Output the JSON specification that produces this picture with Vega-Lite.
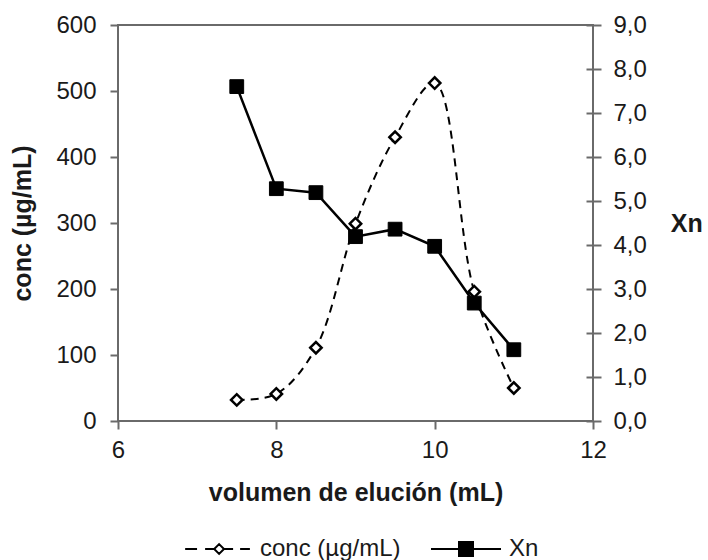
{
  "$schema": "https://vega.github.io/schema/vega-lite/v6.json",
  "width": 475,
  "height": 396,
  "autosize": {"type": "none"},
  "padding": {"left": 118, "top": 25, "right": 115, "bottom": 139},
  "background": "white",
  "config": {
    "font": "Liberation Sans",
    "view": {"stroke": "#6a6a6a", "strokeWidth": 2},
    "axis": {
      "grid": false,
      "domain": false,
      "tickColor": "#6a6a6a",
      "tickWidth": 2,
      "tickSize": 8,
      "labelFont": "Liberation Sans",
      "labelFontSize": 24,
      "labelColor": "#1a1a1a",
      "titleFont": "Liberation Sans",
      "titleFontSize": 25,
      "titleFontWeight": "bold",
      "titleColor": "#1a1a1a"
    },
    "legend": {
      "orient": "none",
      "legendX": 63,
      "legendY": 488,
      "direction": "horizontal",
      "padding": 0,
      "symbolSize": 4900,
      "symbolStrokeWidth": 2,
      "symbolStrokeColor": "black",
      "symbolOpacity": 1,
      "labelFontSize": 24,
      "labelFont": "Liberation Sans",
      "labelColor": "#1a1a1a",
      "labelOffset": 7,
      "columnPadding": 26
    }
  },
  "data": {
    "values": [
      {"v": 7.5, "series": "conc (µg/mL)", "val": 32},
      {"v": 8.0, "series": "conc (µg/mL)", "val": 41},
      {"v": 8.5, "series": "conc (µg/mL)", "val": 111},
      {"v": 9.0, "series": "conc (µg/mL)", "val": 299},
      {"v": 9.5, "series": "conc (µg/mL)", "val": 430},
      {"v": 10.0, "series": "conc (µg/mL)", "val": 512},
      {"v": 10.5, "series": "conc (µg/mL)", "val": 196},
      {"v": 11.0, "series": "conc (µg/mL)", "val": 50},
      {"v": 7.5, "series": "Xn", "val": 7.6},
      {"v": 8.0, "series": "Xn", "val": 5.28},
      {"v": 8.5, "series": "Xn", "val": 5.19},
      {"v": 9.0, "series": "Xn", "val": 4.19},
      {"v": 9.5, "series": "Xn", "val": 4.36},
      {"v": 10.0, "series": "Xn", "val": 3.97},
      {"v": 10.5, "series": "Xn", "val": 2.68},
      {"v": 11.0, "series": "Xn", "val": 1.62}
    ]
  },
  "encoding": {
    "x": {
      "field": "v",
      "type": "quantitative",
      "scale": {"domain": [6, 12], "nice": false, "zero": false},
      "axis": {
        "values": [6, 8, 10, 12],
        "title": "volumen de elución (mL)",
        "labelPadding": 9,
        "titlePadding": 18,
        "labelFlush": false
      }
    }
  },
  "layer": [
    {
      "transform": [{"filter": "datum.series == 'conc (µg/mL)'"}],
      "encoding": {
        "y": {
          "field": "val",
          "type": "quantitative",
          "scale": {"domain": [0, 600], "nice": false},
          "axis": {
            "orient": "left",
            "values": [0, 100, 200, 300, 400, 500, 600],
            "title": "conc (µg/mL)",
            "labelPadding": 14,
            "titlePadding": 20,
            "labelFlush": false
          }
        }
      },
      "layer": [
        {
          "mark": {"type": "line", "interpolate": "catmull-rom", "color": "black", "strokeWidth": 2, "strokeDash": [8, 6]}
        },
        {
          "mark": {"type": "point", "shape": "diamond", "filled": true, "fill": "white", "stroke": "black", "strokeWidth": 2.5, "size": 130, "opacity": 1}
        }
      ]
    },
    {
      "transform": [{"filter": "datum.series == 'Xn'"}],
      "encoding": {
        "y": {
          "field": "val",
          "type": "quantitative",
          "scale": {"domain": [0, 9], "nice": false},
          "axis": {
            "orient": "right",
            "values": [0, 1, 2, 3, 4, 5, 6, 7, 8, 9],
            "labelExpr": "replace(format(datum.value, '.1f'), '.', ',')",
            "title": "Xn",
            "offset": -7,
            "tickSize": 15,
            "labelPadding": 12,
            "titleAngle": 0,
            "titleAlign": "left",
            "titleBaseline": "middle",
            "titlePadding": 24,
            "labelFlush": false
          }
        }
      },
      "layer": [
        {
          "mark": {"type": "line", "color": "black", "strokeWidth": 2.5}
        },
        {
          "mark": {"type": "point", "shape": "square", "filled": true, "fill": "black", "stroke": "black", "strokeWidth": 1, "size": 190, "opacity": 1}
        },
        {
          "mark": {"type": "point", "filled": false, "size": 0, "strokeWidth": 2, "opacity": 1},
          "encoding": {
            "shape": {
              "field": "series",
              "type": "nominal",
              "title": null,
              "scale": {
                "domain": ["conc (µg/mL)", "Xn"],
                "range": [
                  "M-0.91,0H-0.57M-0.34,0H-0.08M0.2,0H0.46M0.66,0H0.94M0.06,-0.14L0.2,0L0.06,0.14L-0.08,0Z",
                  "M-1,0H1M-0.2,-0.2H0.2V0.2H-0.2Z"
                ]
              }
            },
            "fill": {
              "field": "series",
              "type": "nominal",
              "title": null,
              "scale": {"domain": ["conc (µg/mL)", "Xn"], "range": ["white", "black"]}
            },
            "stroke": {
              "field": "series",
              "type": "nominal",
              "title": null,
              "scale": {"domain": ["conc (µg/mL)", "Xn"], "range": ["black", "black"]}
            }
          }
        }
      ]
    }
  ],
  "resolve": {"scale": {"y": "independent"}}
}
